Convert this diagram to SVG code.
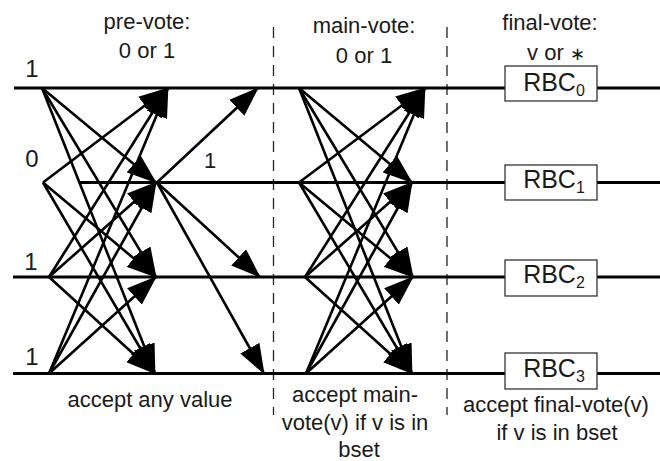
<svg xmlns="http://www.w3.org/2000/svg" width="660" height="461" viewBox="0 0 660 461">
<defs>
<style>
text{font-family:"Liberation Sans",Arial,sans-serif;font-size:22px;fill:#1a1a1a;text-anchor:middle}
.rbc{font-size:25px}
.big{font-size:24px}
.hl{stroke:#000;stroke-width:3;fill:none}
.dash{stroke:#222;stroke-width:1.3;stroke-dasharray:11 8;fill:none}
.box{fill:#fff;stroke:#333;stroke-width:1.3}
.ar{stroke:#000;stroke-width:2.6;fill:none;marker-end:url(#ah)}
</style>
<marker id="ah" markerUnits="userSpaceOnUse" markerWidth="30" markerHeight="22" refX="29" refY="11" orient="auto">
<path d="M0,0 L30,11 L0,22 z" fill="#000"/>
</marker>
</defs>
<rect width="660" height="461" fill="#fff"/>

<g id="phase-labels">
<text x="147" y="28.5">pre-vote:</text>
<text x="147" y="58">0 or 1</text>
<text x="364" y="33">main-vote:</text>
<text x="364" y="63">0 or 1</text>
<text x="550" y="30">final-vote:</text>
<text x="556" y="60">v or <tspan font-size="18">∗</tspan></text>
</g>

<g id="dividers">
<path class="dash" d="M273.5,27 V415"/>
<path class="dash" d="M447,27 V415"/>
</g>

<g id="process-0">
<path class="hl" d="M14,88 H505 M597,88 H660"/>
<text class="big" x="32" y="77">1</text>
</g>
<g id="process-1">
<path class="hl" d="M80,182.5 H505 M597,182.5 H660"/>
<text class="big" x="32" y="167">0</text>
</g>
<g id="process-2">
<path class="hl" d="M13,277 H505 M597,277 H660"/>
<text class="big" x="31" y="270">1</text>
</g>
<g id="process-3">
<path class="hl" d="M13,373.5 H505 M597,373.5 H660"/>
<text class="big" x="32" y="365">1</text>
</g>

<g id="rbc0"><rect class="box" x="505" y="66" width="92" height="35"/><text class="rbc" x="554" y="91">RBC<tspan font-size="16" dy="5">0</tspan></text></g>
<g id="rbc1"><rect class="box" x="505" y="165" width="92" height="35"/><text class="rbc" x="554" y="188">RBC<tspan font-size="16" dy="5">1</tspan></text></g>
<g id="rbc2"><rect class="box" x="505" y="260" width="92" height="36"/><text class="rbc" x="554" y="283">RBC<tspan font-size="16" dy="5">2</tspan></text></g>
<g id="rbc3"><rect class="box" x="505" y="353" width="92" height="36"/><text class="rbc" x="554" y="377">RBC<tspan font-size="16" dy="5">3</tspan></text></g>

<g id="connectors">
<path class="ar" d="M42,88 L156,182.5"/>
<path class="ar" d="M42,88 L156,277"/>
<path class="ar" d="M42,88 L155,373.5"/>
<path class="ar" d="M43,182.5 L168,88"/>
<path class="ar" d="M43,182.5 L156,277"/>
<path class="ar" d="M43,182.5 L155,373.5"/>
<path class="ar" d="M49,277 L168,88"/>
<path class="ar" d="M49,277 L156,182.5"/>
<path class="ar" d="M49,277 L155,373.5"/>
<path class="ar" d="M49,373.5 L168,88"/>
<path class="ar" d="M49,373.5 L156,182.5"/>
<path class="ar" d="M49,373.5 L156,277"/>

<path class="ar" d="M157,182.5 L258,88"/>
<path class="ar" d="M157,182.5 L260,277"/>
<path class="ar" d="M157,182.5 L264,373.5"/>

<path class="ar" d="M299,88 L412,182.5"/>
<path class="ar" d="M299,88 L413,277"/>
<path class="ar" d="M299,88 L412,373.5"/>
<path class="ar" d="M299,182.5 L425,88"/>
<path class="ar" d="M299,182.5 L413,277"/>
<path class="ar" d="M299,182.5 L412,373.5"/>
<path class="ar" d="M305,277 L425,88"/>
<path class="ar" d="M305,277 L412,182.5"/>
<path class="ar" d="M305,277 L412,373.5"/>
<path class="ar" d="M306,373.5 L425,88"/>
<path class="ar" d="M306,373.5 L412,182.5"/>
<path class="ar" d="M306,373.5 L413,277"/>
</g>

<g id="notes">
<text x="210" y="168">1</text>
<text x="150" y="407">accept any value</text>
<text x="355" y="402">accept main-</text>
<text x="355" y="430">vote(v) if v is in</text>
<text x="359" y="457">bset</text>
<text x="556" y="412">accept final-vote(v)</text>
<text x="557" y="440">if v is in bset</text>
</g>
</svg>
